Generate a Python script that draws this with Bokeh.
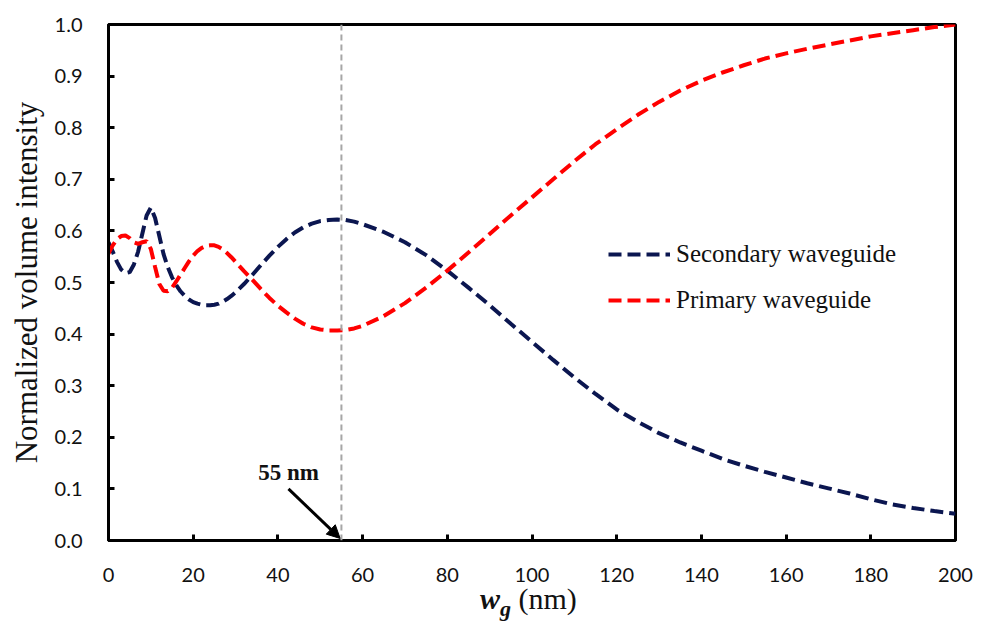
from bokeh.plotting import figure
from bokeh.layouts import column
from bokeh.models import (Range1d, FixedTicker, Span, Arrow, NormalHead, Label,
                          Legend, LegendItem, Div)
from bokeh.embed import file_html
from bokeh.resources import INLINE

# Gap width w_g (nm)
wg_nm = [0, 1, 2, 3, 4, 5, 6, 7, 8, 9, 10, 11, 12, 13, 14, 15, 16, 17, 18, 19,
         20, 21, 22, 23, 24, 25, 26, 27, 28, 29, 30, 32, 34, 36, 38, 40, 42, 44,
         46, 48, 50, 52, 54, 56, 58, 60, 65, 70, 75, 80, 85, 90, 95, 100, 105,
         110, 115, 120, 125, 130, 135, 140, 145, 150, 155, 160, 165, 170, 175,
         180, 185, 190, 195, 200]

# Normalized volume intensity in the secondary waveguide
secondary = [0.578, 0.560, 0.540, 0.525, 0.518, 0.520, 0.535, 0.560, 0.595, 0.630,
             0.645, 0.625, 0.590, 0.555, 0.530, 0.510, 0.495, 0.483, 0.474, 0.467,
             0.462, 0.459, 0.457, 0.456, 0.456, 0.457, 0.459, 0.463, 0.468, 0.474,
             0.481, 0.497, 0.515, 0.534, 0.552, 0.569, 0.584, 0.597, 0.607, 0.614,
             0.619, 0.621, 0.622, 0.621, 0.618, 0.613, 0.598, 0.578, 0.553, 0.523,
             0.490, 0.456, 0.420, 0.385, 0.350, 0.316, 0.284, 0.254, 0.230, 0.208,
             0.190, 0.174, 0.158, 0.145, 0.133, 0.122, 0.111, 0.101, 0.091, 0.080,
             0.070, 0.063, 0.057, 0.052]

# Normalized volume intensity in the primary waveguide
primary = [0.556, 0.572, 0.584, 0.590, 0.591, 0.586, 0.578, 0.575, 0.578, 0.580,
           0.565, 0.530, 0.497, 0.484, 0.483, 0.490, 0.502, 0.515, 0.528, 0.541,
           0.552, 0.561, 0.567, 0.571, 0.572, 0.572, 0.569, 0.564, 0.557, 0.549,
           0.540, 0.522, 0.505, 0.487, 0.470, 0.455, 0.442, 0.430, 0.420, 0.413,
           0.409, 0.407, 0.407, 0.408, 0.411, 0.416, 0.435, 0.460, 0.490, 0.523,
           0.558, 0.594, 0.630, 0.665, 0.700, 0.735, 0.768, 0.797, 0.825, 0.850,
           0.872, 0.891, 0.907, 0.921, 0.934, 0.944, 0.953, 0.961, 0.969, 0.977,
           0.983, 0.989, 0.995, 1.000]

x_ticks = [0, 20, 40, 60, 80, 100, 120, 140, 160, 180, 200]
y_ticks = [0.0, 0.1, 0.2, 0.3, 0.4, 0.5, 0.6, 0.7, 0.8, 0.9, 1.0]
y_tick_labels = ["0.0", "0.1", "0.2", "0.3", "0.4", "0.5", "0.6", "0.7", "0.8", "0.9", "1.0"]

marker_nm = 55

NAVY = "#0b1650"
RED = "#ff0000"
SERIF = "Liberation Serif"
INK = "#111111"

p = figure(width=987, height=590, output_backend="svg", toolbar_location=None,
           x_range=Range1d(0, 200), y_range=Range1d(0, 1),
           min_border_left=108, min_border_right=32, min_border_top=24,
           min_border_bottom=50)
p.background_fill_color = "white"
p.border_fill_color = "white"
p.grid.visible = False
p.outline_line_color = "black"
p.outline_line_width = 3
p.outline_line_alpha = 1.0

for ax in (p.xaxis[0], p.yaxis[0]):
    ax.axis_line_color = "black"
    ax.axis_line_width = 3
    ax.major_tick_in = 6
    ax.major_tick_out = 0
    ax.major_tick_line_width = 3
    ax.major_tick_line_color = "black"
    ax.minor_tick_line_color = None
    ax.major_label_text_font = "Lato"
    ax.major_label_text_font_size = "20px"
    ax.major_label_text_color = INK

p.xaxis.ticker = FixedTicker(ticks=x_ticks)
p.yaxis.ticker = FixedTicker(ticks=y_ticks)
p.yaxis.major_label_overrides = {t: s for t, s in zip(y_ticks, y_tick_labels)}
p.xaxis.major_label_standoff = 27
p.yaxis.major_label_standoff = 26

p.yaxis.axis_label = "Normalized volume intensity"
p.yaxis.axis_label_text_font = SERIF
p.yaxis.axis_label_text_font_size = "31px"
p.yaxis.axis_label_text_font_style = "normal"
p.yaxis.axis_label_text_color = INK
p.yaxis.axis_label_standoff = 8

# Reference line at the optimum gap
p.add_layout(Span(location=marker_nm, dimension="height", line_color="#a6a6a6",
                  line_width=2, line_dash="6 4"))

r_sec = p.line(wg_nm, secondary, line_color=NAVY, line_width=4, line_dash="13 6")
r_pri = p.line(wg_nm, primary, line_color=RED, line_width=4, line_dash="13 6")

legend = Legend(items=[LegendItem(label="Secondary waveguide", renderers=[r_sec]),
                       LegendItem(label="Primary waveguide", renderers=[r_pri])],
                location=(500, 226), orientation="vertical")
legend.label_text_font = SERIF
legend.label_text_font_size = "25px"
legend.label_text_color = INK
legend.glyph_width = 62
legend.glyph_height = 22
legend.label_height = 22
legend.label_standoff = 6
legend.spacing = 18
legend.padding = 0
legend.margin = 0
legend.border_line_alpha = 0
legend.background_fill_alpha = 0
p.add_layout(legend)

# Annotation pointing at the optimum gap
p.add_layout(Arrow(end=NormalHead(size=13, fill_color="black", line_color="black"),
                   x_start=marker_nm - 12.5, y_start=0.10,
                   x_end=marker_nm - 0.3, y_end=0.004,
                   line_color="black", line_width=3))
p.add_layout(Label(x=marker_nm - 12.5, y=0.132, text=f"{marker_nm} nm",
                   text_font=SERIF, text_font_size="23px", text_font_style="bold",
                   text_align="center", text_baseline="middle", text_color=INK))

# x-axis title: w_g (nm)
x_title = Div(
    text=(f'<div style="position:relative; left:480px; top:-6px; white-space:nowrap; '
          f'font-family:\'{SERIF}\'; font-size:30px; line-height:30px; color:{INK};">'
          '<b><i>w<sub style="font-size:22px; vertical-align:-7px;">g</sub></i></b>'
          ' (nm)</div>'),
    width=987, height=44, margin=0)

layout = column(p, x_title, spacing=0)

open("out.html", "w").write(file_html(layout, INLINE))
